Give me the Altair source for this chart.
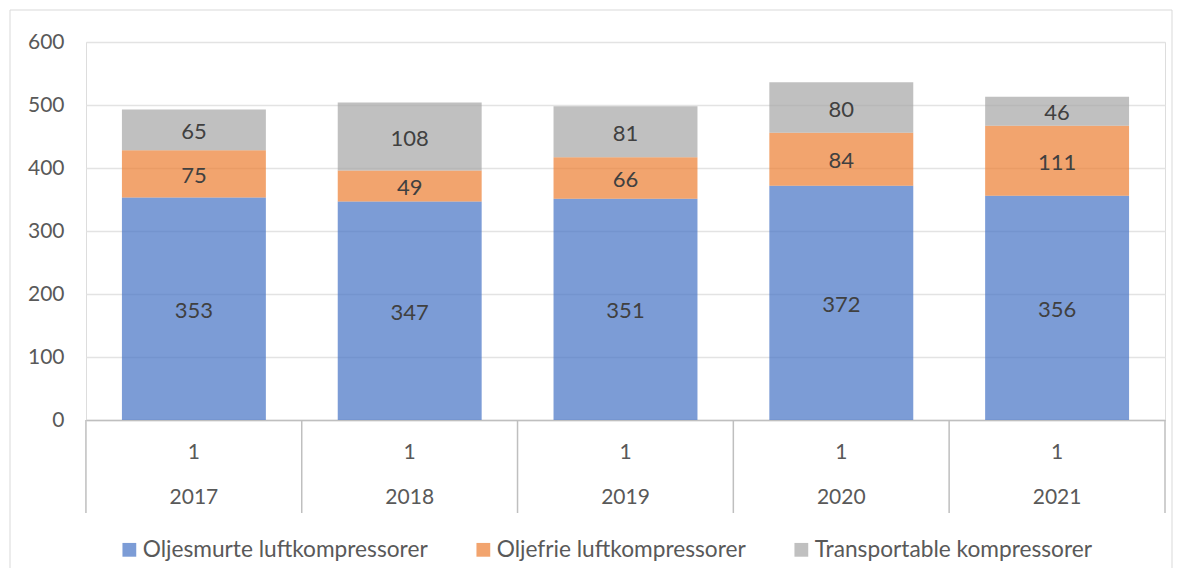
import altair as alt
import pandas as pd

years = ["2017", "2018", "2019", "2020", "2021"]
sub_labels = ["1", "1", "1", "1", "1"]
series = ["Oljesmurte luftkompressorer", "Oljefrie luftkompressorer", "Transportable kompressorer"]
oljesmurte = [353, 347, 351, 372, 356]
oljefrie = [75, 49, 66, 84, 111]
transportable = [65, 108, 81, 80, 46]
colors = ["#4472C4", "#ED7D31", "#A5A5A5"]

rows = []
for i, y in enumerate(years):
    base = 0
    for k, (s, vals) in enumerate(zip(series, [oljesmurte, oljefrie, transportable])):
        v = vals[i]
        rows.append({"year": y, "series": s, "value": v, "order": k, "mid": base + v / 2, "sub": sub_labels[i]})
        base += v
df = pd.DataFrame(rows)
cats = pd.DataFrame({"year": years, "sub": sub_labels})

FONT = "Lato"
W, H = 1079, 378

xscale = alt.Scale(domain=years, paddingInner=0.333, paddingOuter=0.1665)

border = alt.Chart(pd.DataFrame({"a": [0]})).mark_rect(
    fill=None, stroke="#d9d9d9", strokeWidth=1
).encode(x=alt.value(-76), x2=alt.value(1086), y=alt.value(-32), y2=alt.value(536))

bars = alt.Chart(df).mark_bar(opacity=0.7).encode(
    x=alt.X("year:N", scale=xscale, sort=years,
            axis=alt.Axis(title=None, labels=False, ticks=False, domain=True,
                          domainColor="#bfbfbf", domainWidth=1.5, grid=False)),
    y=alt.Y("value:Q", stack="zero", scale=alt.Scale(domain=[0, 600]),
            axis=alt.Axis(title=None, values=[0, 100, 200, 300, 400, 500, 600],
                          domain=False, ticks=False, gridColor="#e3e3e3", gridWidth=1.5,
                          labelPadding=22, labelFont=FONT, labelFontSize=21,
                          labelColor="#595959")),
    color=alt.Color("series:N", scale=alt.Scale(domain=series, range=colors),
                    sort=series,
                    legend=alt.Legend(title=None, orient="none", direction="horizontal",
                                      legendX=32, legendY=496, symbolType="square",
                                      symbolSize=190, symbolOpacity=0.7, symbolStrokeWidth=0,
                                      labelFont=FONT, labelFontSize=22.7, labelColor="#595959",
                                      columnPadding=44, labelOffset=2, labelLimit=400)),
    order=alt.Order("order:Q"),
)

labels = alt.Chart(df).mark_text(font=FONT, fontSize=22, color="#404040", dy=2).encode(
    x=alt.X("year:N", scale=xscale, sort=years),
    y=alt.Y("mid:Q"),
    text=alt.Text("value:Q"),
)

vlines = alt.Chart(cats).mark_rule(color="#bfbfbf", strokeWidth=1.5, xOffset=-36).encode(
    x=alt.X("year:N", scale=xscale, sort=years, bandPosition=0),
    y=alt.value(H), y2=alt.value(H + 93),
)
last_line = alt.Chart(pd.DataFrame({"a": [0]})).mark_rule(color="#bfbfbf", strokeWidth=1.5).encode(
    x=alt.value(W), y=alt.value(H), y2=alt.value(H + 93)
)

sub_text = alt.Chart(cats).mark_text(font=FONT, fontSize=21, color="#595959").encode(
    x=alt.X("year:N", scale=xscale, sort=years),
    y=alt.value(H + 33),
    text="sub:N",
)
year_text = alt.Chart(cats).mark_text(font=FONT, fontSize=21, color="#595959").encode(
    x=alt.X("year:N", scale=xscale, sort=years),
    y=alt.value(H + 78),
    text="year:N",
)

chart = alt.layer(border, bars, labels, vlines, last_line, sub_text, year_text).properties(
    width=W, height=H,
    autosize=alt.AutoSizeParams(type="none"),
    padding={"left": 78, "top": 34, "right": 8, "bottom": 148},
).configure_view(stroke=None).configure(background="white")

chart.save("out.html", embed_options={"renderer": "svg", "actions": False})
